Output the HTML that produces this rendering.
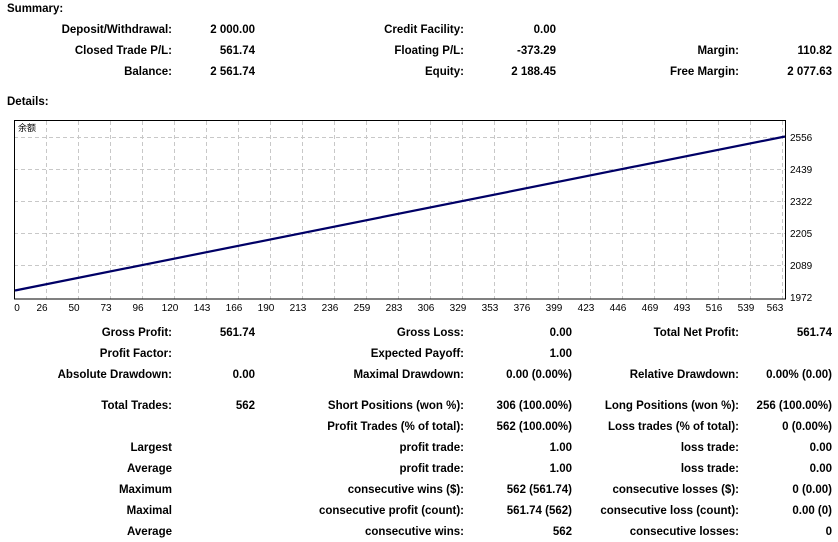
<!DOCTYPE html>
<html><head><meta charset="utf-8"><style>
body{margin:0;width:838px;height:542px;background:#fff;position:relative;overflow:hidden;font-family:"Liberation Sans","Noto Sans CJK SC",sans-serif;font-weight:bold;font-size:11.5px;color:#000}
.t{position:absolute;line-height:14px;white-space:nowrap}
.r{position:absolute;line-height:14px;white-space:nowrap;text-align:right}
svg text{font-weight:normal}
</style></head><body>
<div class="t" style="left:7px;top:2px">Summary:</div>
<div class="t" style="left:7px;top:95px">Details:</div>

<div class="r" style="right:666px;top:23px">Deposit/Withdrawal:</div><div class="r" style="right:583px;top:23px">2 000.00</div>
<div class="r" style="right:374px;top:23px">Credit Facility:</div><div class="r" style="right:282px;top:23px">0.00</div>
<div class="r" style="right:666px;top:44px">Closed Trade P/L:</div><div class="r" style="right:583px;top:44px">561.74</div>
<div class="r" style="right:374px;top:44px">Floating P/L:</div><div class="r" style="right:282px;top:44px">-373.29</div>
<div class="r" style="right:99px;top:44px">Margin:</div><div class="r" style="right:6px;top:44px">110.82</div>
<div class="r" style="right:666px;top:65px">Balance:</div><div class="r" style="right:583px;top:65px">2 561.74</div>
<div class="r" style="right:374px;top:65px">Equity:</div><div class="r" style="right:282px;top:65px">2 188.45</div>
<div class="r" style="right:99px;top:65px">Free Margin:</div><div class="r" style="right:6px;top:65px">2 077.63</div>

<svg style="position:absolute;left:0;top:0" width="838" height="320" font-family="Liberation Sans, Noto Sans CJK SC, sans-serif" font-size="10">
<g stroke="#c8c8c8" stroke-dasharray="4,3" stroke-width="1">
<line x1="14" y1="137.5" x2="785" y2="137.5"/><line x1="14" y1="169.5" x2="785" y2="169.5"/><line x1="14" y1="201.5" x2="785" y2="201.5"/><line x1="14" y1="233.5" x2="785" y2="233.5"/><line x1="14" y1="265.5" x2="785" y2="265.5"/>
<line x1="46.5" y1="121" x2="46.5" y2="299"/><line x1="78.5" y1="121" x2="78.5" y2="299"/><line x1="110.5" y1="121" x2="110.5" y2="299"/><line x1="142.5" y1="121" x2="142.5" y2="299"/><line x1="174.5" y1="121" x2="174.5" y2="299"/><line x1="206.5" y1="121" x2="206.5" y2="299"/><line x1="238.5" y1="121" x2="238.5" y2="299"/><line x1="270.5" y1="121" x2="270.5" y2="299"/><line x1="302.5" y1="121" x2="302.5" y2="299"/><line x1="334.5" y1="121" x2="334.5" y2="299"/><line x1="366.5" y1="121" x2="366.5" y2="299"/><line x1="398.5" y1="121" x2="398.5" y2="299"/><line x1="430.5" y1="121" x2="430.5" y2="299"/><line x1="462.5" y1="121" x2="462.5" y2="299"/><line x1="494.5" y1="121" x2="494.5" y2="299"/><line x1="526.5" y1="121" x2="526.5" y2="299"/><line x1="558.5" y1="121" x2="558.5" y2="299"/><line x1="590.5" y1="121" x2="590.5" y2="299"/><line x1="622.5" y1="121" x2="622.5" y2="299"/><line x1="654.5" y1="121" x2="654.5" y2="299"/><line x1="686.5" y1="121" x2="686.5" y2="299"/><line x1="718.5" y1="121" x2="718.5" y2="299"/><line x1="750.5" y1="121" x2="750.5" y2="299"/><line x1="782.5" y1="121" x2="782.5" y2="299"/>
</g>
<rect x="14.5" y="120.5" width="771" height="178.5" fill="none" stroke="#000" stroke-width="1"/>
<line x1="15" y1="290.5" x2="785" y2="136.5" stroke="#000066" stroke-width="2.2"/>
<text x="18" y="131" font-size="9">余额</text>
<g font-size="10">
<text x="790" y="141">2556</text><text x="790" y="173">2439</text><text x="790" y="205">2322</text><text x="790" y="237">2205</text><text x="790" y="269">2089</text><text x="790" y="301">1972</text>
</g>
<g font-size="10" text-anchor="middle">
<text x="17" y="311">0</text><text x="42" y="311">26</text><text x="74" y="311">50</text><text x="106" y="311">73</text><text x="138" y="311">96</text><text x="170" y="311">120</text><text x="202" y="311">143</text><text x="234" y="311">166</text><text x="266" y="311">190</text><text x="298" y="311">213</text><text x="330" y="311">236</text><text x="362" y="311">259</text><text x="394" y="311">283</text><text x="426" y="311">306</text><text x="458" y="311">329</text><text x="490" y="311">353</text><text x="522" y="311">376</text><text x="554" y="311">399</text><text x="586" y="311">423</text><text x="618" y="311">446</text><text x="650" y="311">469</text><text x="682" y="311">493</text><text x="714" y="311">516</text><text x="746" y="311">539</text><text x="775" y="311">563</text>
</g>
</svg>

<div class="r" style="right:666px;top:326px">Gross Profit:</div><div class="r" style="right:583px;top:326px">561.74</div>
<div class="r" style="right:374px;top:326px">Gross Loss:</div><div class="r" style="right:266px;top:326px">0.00</div>
<div class="r" style="right:99px;top:326px">Total Net Profit:</div><div class="r" style="right:6px;top:326px">561.74</div>

<div class="r" style="right:666px;top:347px">Profit Factor:</div>
<div class="r" style="right:374px;top:347px">Expected Payoff:</div><div class="r" style="right:266px;top:347px">1.00</div>

<div class="r" style="right:666px;top:368px">Absolute Drawdown:</div><div class="r" style="right:583px;top:368px">0.00</div>
<div class="r" style="right:374px;top:368px">Maximal Drawdown:</div><div class="r" style="right:266px;top:368px">0.00 (0.00%)</div>
<div class="r" style="right:99px;top:368px">Relative Drawdown:</div><div class="r" style="right:6px;top:368px">0.00% (0.00)</div>

<div class="r" style="right:666px;top:399px">Total Trades:</div><div class="r" style="right:583px;top:399px">562</div>
<div class="r" style="right:374px;top:399px">Short Positions (won %):</div><div class="r" style="right:266px;top:399px">306 (100.00%)</div>
<div class="r" style="right:99px;top:399px">Long Positions (won %):</div><div class="r" style="right:6px;top:399px">256 (100.00%)</div>

<div class="r" style="right:374px;top:420px">Profit Trades (% of total):</div><div class="r" style="right:266px;top:420px">562 (100.00%)</div>
<div class="r" style="right:99px;top:420px">Loss trades (% of total):</div><div class="r" style="right:6px;top:420px">0 (0.00%)</div>

<div class="r" style="right:666px;top:441px">Largest</div>
<div class="r" style="right:374px;top:441px">profit trade:</div><div class="r" style="right:266px;top:441px">1.00</div>
<div class="r" style="right:99px;top:441px">loss trade:</div><div class="r" style="right:6px;top:441px">0.00</div>

<div class="r" style="right:666px;top:462px">Average</div>
<div class="r" style="right:374px;top:462px">profit trade:</div><div class="r" style="right:266px;top:462px">1.00</div>
<div class="r" style="right:99px;top:462px">loss trade:</div><div class="r" style="right:6px;top:462px">0.00</div>

<div class="r" style="right:666px;top:483px">Maximum</div>
<div class="r" style="right:374px;top:483px">consecutive wins ($):</div><div class="r" style="right:266px;top:483px">562 (561.74)</div>
<div class="r" style="right:99px;top:483px">consecutive losses ($):</div><div class="r" style="right:6px;top:483px">0 (0.00)</div>

<div class="r" style="right:666px;top:504px">Maximal</div>
<div class="r" style="right:374px;top:504px">consecutive profit (count):</div><div class="r" style="right:266px;top:504px">561.74 (562)</div>
<div class="r" style="right:99px;top:504px">consecutive loss (count):</div><div class="r" style="right:6px;top:504px">0.00 (0)</div>

<div class="r" style="right:666px;top:525px">Average</div>
<div class="r" style="right:374px;top:525px">consecutive wins:</div><div class="r" style="right:266px;top:525px">562</div>
<div class="r" style="right:99px;top:525px">consecutive losses:</div><div class="r" style="right:6px;top:525px">0</div>
</body></html>
